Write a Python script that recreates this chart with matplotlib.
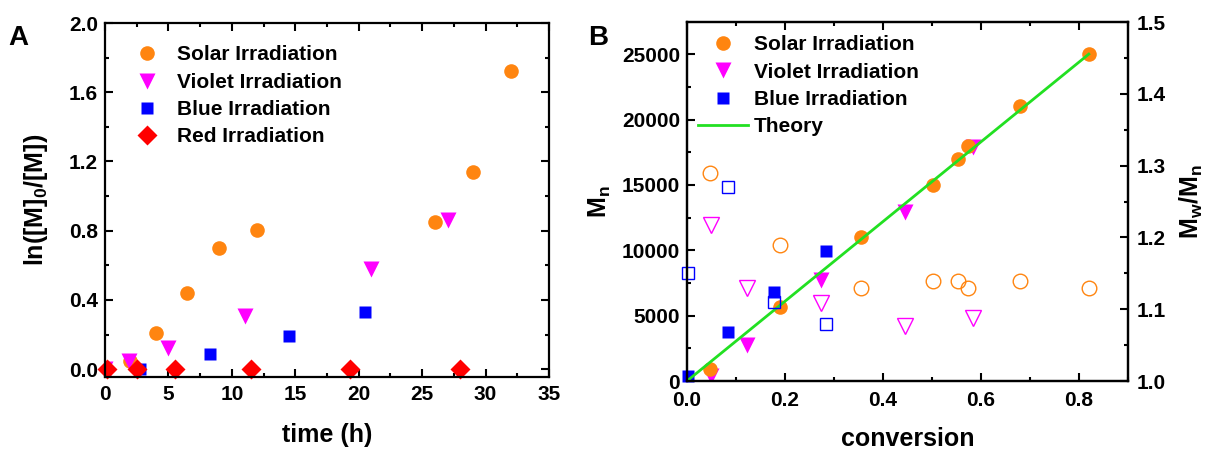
import matplotlib.pyplot as plt
from matplotlib.ticker import MultipleLocator, FormatStrFormatter

plt.rcParams['font.family'] = ['Liberation Sans', 'DejaVu Sans']
plt.rcParams['font.weight'] = 'bold'
plt.rcParams['mathtext.fontset'] = 'custom'
plt.rcParams['mathtext.rm'] = 'Liberation Sans:bold'
plt.rcParams['mathtext.it'] = 'Liberation Sans:bold'
plt.rcParams['mathtext.bf'] = 'Liberation Sans:bold'

# panel A: kinetics
solar_t = [2.0, 4.0, 6.5, 9.0, 12.0, 26.0, 29.0, 32.0]
solar_ln = [0.05, 0.21, 0.44, 0.70, 0.805, 0.85, 1.14, 1.72]
violet_t = [0.0, 1.9, 5.0, 11.0, 21.0, 27.0]
violet_ln = [0.0, 0.05, 0.12, 0.31, 0.58, 0.86]
blue_t = [0.0, 2.8, 8.3, 14.5, 20.5]
blue_ln = [0.0, 0.0, 0.087, 0.19, 0.33]
red_t = [0.2, 2.5, 5.5, 11.5, 19.3, 28.0]
red_ln = [0.0, 0.0, 0.0, 0.0, 0.0, 0.0]

# panel B: Mn and dispersity vs conversion
solar_conv = [0.048, 0.19, 0.356, 0.503, 0.553, 0.573, 0.68, 0.82]
solar_mn = [950, 5680, 11000, 15000, 17000, 18000, 21000, 25000]
solar_pdi = [1.290, 1.189, 1.129, 1.140, 1.140, 1.129, 1.140, 1.129]
violet_conv = [0.05, 0.122, 0.273, 0.444, 0.583]
violet_mn = [380, 2740, 7720, 12900, 17900]
violet_pdi = [1.218, 1.129, 1.108, 1.077, 1.088]
blue_conv = [0.003, 0.084, 0.178, 0.283]
blue_mn = [400, 3760, 6830, 9970]
blue_pdi = [1.150, 1.270, 1.110, 1.080]
theory_conv = [0.0, 0.82]
theory_mn = [0, 25000]

ORANGE = '#FF8510'
MAGENTA = '#FF00FF'
BLUE = '#0000FF'
RED = '#FF0000'
GREEN = '#22E022'

fig = plt.figure(figsize=(12.12, 4.51), dpi=100)
axA = fig.add_axes([0.0866, 0.164, 0.3664, 0.785])
axB = fig.add_axes([0.5668, 0.1552, 0.3639, 0.7958])


def style(ax):
    for s in ax.spines.values():
        s.set_linewidth(1.6)
    ax.tick_params(which='both', direction='in', width=1.5, labelsize=15, pad=5)
    ax.tick_params(which='major', length=6)
    ax.tick_params(which='minor', length=3)


axA.plot(solar_t, solar_ln, 'o', color=ORANGE, ms=10.5, mec='none', label='Solar Irradiation')
axA.plot(violet_t, violet_ln, 'v', color=MAGENTA, ms=11.5, mec='none', label='Violet Irradiation')
axA.plot(blue_t, blue_ln, 's', color=BLUE, ms=9, mec='none', label='Blue Irradiation')
axA.plot(red_t, red_ln, 'D', color=RED, ms=10, mec='none', label='Red Irradiation', clip_on=False)
axA.set_xlim(0, 35)
axA.set_ylim(-0.045, 2.0)
axA.xaxis.set_major_locator(MultipleLocator(5))
axA.xaxis.set_minor_locator(MultipleLocator(2.5))
axA.yaxis.set_major_locator(MultipleLocator(0.4))
axA.yaxis.set_minor_locator(MultipleLocator(0.2))
axA.yaxis.set_major_formatter(FormatStrFormatter('%.1f'))
axA.tick_params(which='both', top=True, right=True)
style(axA)
axA.tick_params(axis='x', pad=6)
axA.set_xlabel('time (h)', fontsize=18, fontweight='bold')
axA.set_ylabel('ln([M]$_0$/[M])', fontsize=18, fontweight='bold')
axA.xaxis.set_label_coords(0.5, -0.13)
axA.yaxis.set_label_coords(-0.124, 0.5)
axA.legend(loc='upper left', bbox_to_anchor=(0.029, 0.96), frameon=False, fontsize=15,
           handletextpad=0.45, labelspacing=0.4, borderaxespad=0)
fig.text(0.007, 0.945, 'A', fontsize=20, fontweight='bold', va='top')

axB.plot(solar_conv, solar_mn, 'o', color=ORANGE, ms=10.5, mec='none', label='Solar Irradiation', zorder=3)
axB.plot(violet_conv, violet_mn, 'v', color=MAGENTA, ms=11.5, mec='none', label='Violet Irradiation', zorder=2)
axB.plot(blue_conv, blue_mn, 's', color=BLUE, ms=9, mec='none', label='Blue Irradiation', clip_on=False)
axB.plot(theory_conv, theory_mn, '-', color=GREEN, lw=2, label='Theory', zorder=4)
axB.set_xlim(0, 0.9)
axB.set_ylim(0, 27450)
axB.xaxis.set_major_locator(MultipleLocator(0.2))
axB.xaxis.set_minor_locator(MultipleLocator(0.1))
axB.xaxis.set_major_formatter(FormatStrFormatter('%.1f'))
axB.yaxis.set_major_locator(MultipleLocator(5000))
axB.yaxis.set_minor_locator(MultipleLocator(2500))
axB.tick_params(which='both', top=True)
style(axB)
axB.tick_params(axis='x', pad=7.5)
axB.set_xlabel('conversion', fontsize=18, fontweight='bold')
axB.set_ylabel('M$_n$', fontsize=18, fontweight='bold')
axB.xaxis.set_label_coords(0.5, -0.128)
axB.yaxis.set_label_coords(-0.168, 0.5)
axB.legend(loc='upper left', bbox_to_anchor=(0.005, 0.986), frameon=False, fontsize=15,
           handletextpad=0.3, labelspacing=0.4, borderaxespad=0, handlelength=2.4)

axR = axB.twinx()
axR.plot(solar_conv, solar_pdi, 'o', mfc='none', mec=ORANGE, ms=10.5, mew=1)
axR.plot(violet_conv, violet_pdi, 'v', mfc='none', mec=MAGENTA, ms=11.5, mew=1)
axR.plot(blue_conv, blue_pdi, 's', mfc='none', mec=BLUE, ms=9, mew=1, clip_on=False)
axR.set_ylim(1.0, 1.5)
axR.yaxis.set_major_locator(MultipleLocator(0.1))
axR.yaxis.set_minor_locator(MultipleLocator(0.05))
axR.yaxis.set_major_formatter(FormatStrFormatter('%.1f'))
style(axR)
axR.tick_params(axis='y', pad=6)
axR.set_ylabel('M$_w$/M$_n$', fontsize=18, fontweight='bold')
axR.yaxis.set_label_coords(1.113, 0.5)
fig.text(0.485, 0.945, 'B', fontsize=20, fontweight='bold', va='top')

fig.savefig('out.png', dpi=100)
